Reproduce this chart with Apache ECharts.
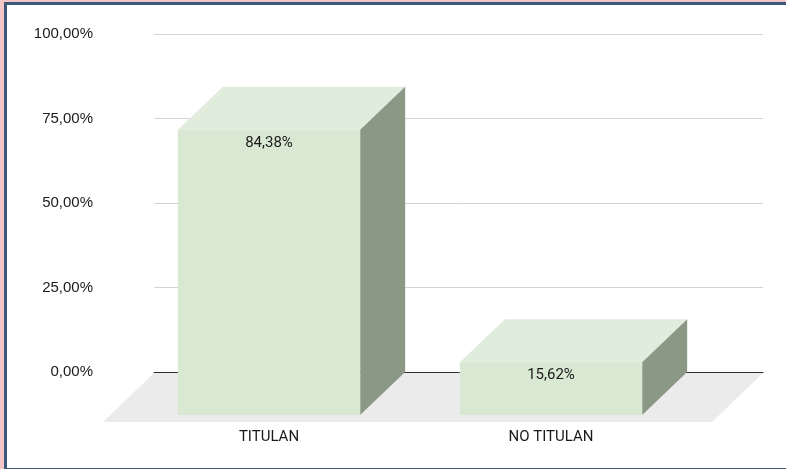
<!DOCTYPE html>
<html>
<head>
<meta charset="utf-8">
<script src="https://cdn.jsdelivr.net/npm/echarts@6/dist/echarts.min.js"></script>
<style>
  html, body { margin: 0; padding: 0; width: 786px; height: 469px; overflow: hidden; background: #f2c6c6; }
  #frame { position: absolute; left: 4px; top: 2px; width: 820px; height: 463px; border: 3px solid #3c5878; background: #fff; }
  #chart { position: absolute; left: 0; top: 0; width: 786px; height: 469px; }
</style>
</head>
<body>
<div id="frame"></div>
<div id="chart"></div>
<script>
// categorias y valores (%)
var categories = ['TITULAN', 'NO TITULAN'];
var values = [84.38, 15.62];
var yTicks = [0, 25, 50, 75, 100];

var depthX = -45, depthY = 43;   // desplazamiento cara frontal
var barRatio = 0.6465;

function fmt(v, d) {
  return v.toFixed(d).replace('.', ',') + '%';
}

// barras 3D
function renderBar(params, api) {
  var idx = api.value(0), val = api.value(1);
  var top = api.coord([idx, val]);
  var base = api.coord([idx, 0]);
  var w = api.size([1, 0])[0] * barRatio;
  var xl = top[0] - w / 2 + depthX, xr = top[0] + w / 2 + depthX;
  var yt = top[1] + depthY, yb = base[1] + depthY;
  return {
    type: 'group',
    children: [
      { type: 'polygon', shape: { points: [[xl, yt], [xl - depthX, yt - depthY], [xr - depthX, yt - depthY], [xr, yt]] },
        style: { fill: '#e0ecdc' } },
      { type: 'polygon', shape: { points: [[xr, yt], [xr - depthX, yt - depthY], [xr - depthX, yb - depthY], [xr, yb]] },
        style: { fill: '#8c9886' } },
      { type: 'rect', shape: { x: xl, y: yt, width: w, height: yb - yt }, style: { fill: '#d8e8d3' } },
      { type: 'text', x: top[0] + depthX, y: yt + 6,
        style: { text: fmt(val, 2), fill: '#1a1a1a', font: '15px Roboto', align: 'center', verticalAlign: 'top' } }
    ]
  };
}

// piso gris
function renderFloor(params, api) {
  var cs = params.coordSys;
  var y = cs.y + cs.height + 1;
  return {
    type: 'polygon',
    shape: { points: [[cs.x, y], [cs.x + cs.width, y], [cs.x + cs.width - 51, y + 49], [cs.x - 51, y + 49]] },
    style: { fill: '#ebebeb' }
  };
}

var chart = echarts.init(document.getElementById('chart'));
var option = {
  animation: false,
  grid: [
    { left: 173, right: 49, top: 34, bottom: 97 },
    { left: 154, right: 23, top: 34, bottom: 97 }
  ],
  xAxis: [
    { type: 'category', gridIndex: 0, data: categories,
      axisLine: { show: false }, axisTick: { show: false },
      axisLabel: { color: '#1a1a1a', fontFamily: 'Roboto', fontSize: 15, lineHeight: 18, margin: 56, padding: [0, 90, 0, 0] } },
    { type: 'category', gridIndex: 1, data: categories,
      axisLine: { show: true, lineStyle: { color: '#2e2e2e', width: 1 } },
      axisTick: { show: false }, axisLabel: { show: false } }
  ],
  yAxis: [
    { type: 'value', gridIndex: 0, min: 0, max: 100, interval: 25, show: false },
    { type: 'value', gridIndex: 1, min: yTicks[0], max: yTicks[yTicks.length - 1], interval: 25,
      axisLine: { show: false }, axisTick: { show: false },
      axisLabel: { color: '#1a1a1a', fontFamily: 'Liberation Sans, Arial', fontSize: 15, margin: 61,
        formatter: function (v) { return fmt(v, 2); } },
      splitLine: { lineStyle: { color: '#d4d4d4', width: 1 } } }
  ],
  series: [
    { type: 'custom', xAxisIndex: 1, yAxisIndex: 1, z: 1, silent: true,
      data: [[0, 0]], renderItem: renderFloor },
    { type: 'custom', xAxisIndex: 0, yAxisIndex: 0, z: 3,
      data: values.map(function (v, i) { return [i, v]; }), renderItem: renderBar }
  ]
};
chart.setOption(option);
</script>
</body>
</html>
